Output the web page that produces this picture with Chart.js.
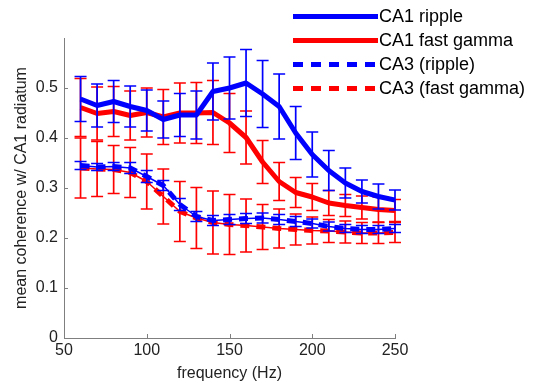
<!DOCTYPE html>
<html>
<head>
<meta charset="utf-8">
<script src="https://cdn.jsdelivr.net/npm/chart.js@4"></script>
<style>
  html, body { margin: 0; padding: 0; background: #fff; }
  canvas { display: block; }
</style>
</head>
<body>
<canvas id="chart" width="535" height="383"></canvas>
<script>
const freq = [60, 70, 80, 90, 100, 110, 120, 130, 140, 150, 160, 170, 180, 190, 200, 210, 220, 230, 240, 250];

const ca1Ripple    = [0.478, 0.465, 0.473, 0.463, 0.455, 0.437, 0.446, 0.446, 0.493, 0.500, 0.510, 0.488, 0.463, 0.410, 0.367, 0.335, 0.310, 0.293, 0.283, 0.276];
const ca1RippleErr = [0.045, 0.043, 0.042, 0.041, 0.041, 0.037, 0.043, 0.048, 0.057, 0.062, 0.067, 0.067, 0.065, 0.053, 0.045, 0.040, 0.030, 0.023, 0.025, 0.020];

const ca1Gamma    = [0.461, 0.449, 0.453, 0.445, 0.451, 0.442, 0.450, 0.450, 0.451, 0.430, 0.401, 0.352, 0.313, 0.291, 0.282, 0.270, 0.265, 0.261, 0.257, 0.255];
const ca1GammaErr = [0.058, 0.053, 0.050, 0.049, 0.049, 0.055, 0.060, 0.061, 0.064, 0.059, 0.053, 0.043, 0.038, 0.030, 0.027, 0.025, 0.022, 0.023, 0.025, 0.022];

const ca3Ripple    = [0.345, 0.342, 0.343, 0.340, 0.323, 0.305, 0.267, 0.243, 0.235, 0.237, 0.239, 0.240, 0.237, 0.233, 0.229, 0.223, 0.219, 0.217, 0.217, 0.219];
const ca3RippleErr = [0.008, 0.007, 0.008, 0.011, 0.012, 0.010, 0.012, 0.010, 0.010, 0.010, 0.010, 0.010, 0.010, 0.010, 0.009, 0.009, 0.008, 0.008, 0.008, 0.008];

const ca3Gamma    = [0.340, 0.338, 0.337, 0.331, 0.313, 0.283, 0.253, 0.240, 0.231, 0.227, 0.225, 0.222, 0.219, 0.217, 0.215, 0.214, 0.212, 0.210, 0.210, 0.211];
const ca3GammaErr = [0.060, 0.055, 0.048, 0.050, 0.055, 0.055, 0.060, 0.061, 0.063, 0.060, 0.053, 0.045, 0.039, 0.031, 0.027, 0.023, 0.022, 0.021, 0.021, 0.020];

const seriesNames = ['CA1 ripple', 'CA1 fast gamma', 'CA3 (ripple)', 'CA3 (fast gamma)'];
const xTicks = [50, 100, 150, 200, 250];

const BLUE = 'rgb(0,0,255)';
const RED = 'rgb(255,0,0)';
const AXIS = '#7f7f7f';
const FONT = "'Liberation Sans', Arial, sans-serif";

function points(values) {
    return values.map((v, i) => ({x: freq[i], y: v}));
}

function lineSet(label, values, errs, color, dashed, width, legend) {
    return {
        label: label,
        data: points(values),
        errs: errs,
        borderColor: color,
        backgroundColor: color,
        borderWidth: width,
        borderDash: dashed ? [9, 7] : [],
        borderJoinStyle: 'round',
        pointRadius: 0,
        tension: 0,
        fill: false,
        inLegend: legend
    };
}

// error bars drawn with the chart's own scales
const errorBars = {
    id: 'errorBars',
    beforeDatasetDraw(chart, args) {
        const ds = chart.data.datasets[args.index];
        if (!ds.errs) return;
        const x = chart.scales.x, y = chart.scales.y;
        const ctx = chart.ctx;
        ctx.save();
        ctx.strokeStyle = ds.borderColor;
        ctx.lineWidth = 1.7;
        ctx.setLineDash([]);
        ds.data.forEach((p, i) => {
            const px = x.getPixelForValue(p.x);
            const top = y.getPixelForValue(p.y + ds.errs[i]);
            const bot = y.getPixelForValue(p.y - ds.errs[i]);
            ctx.beginPath();
            ctx.moveTo(px, top); ctx.lineTo(px, bot);
            ctx.moveTo(px - 6, top); ctx.lineTo(px + 6, top);
            ctx.moveTo(px - 6, bot); ctx.lineTo(px + 6, bot);
            ctx.stroke();
        });
        ctx.restore();
    }
};

// matlab style inward ticks
const inwardTicks = {
    id: 'inwardTicks',
    afterDraw(chart) {
        const ctx = chart.ctx;
        const a = chart.chartArea;
        const x = chart.scales.x, y = chart.scales.y;
        ctx.save();
        ctx.strokeStyle = AXIS;
        ctx.lineWidth = 1;
        ctx.beginPath();
        x.ticks.forEach(t => {
            const px = Math.round(x.getPixelForValue(t.value)) + 0.5;
            ctx.moveTo(px, a.bottom); ctx.lineTo(px, a.bottom - 4);
        });
        y.ticks.forEach(t => {
            const py = Math.round(y.getPixelForValue(t.value)) + 0.5;
            if (t.value > 0.55) return;
            ctx.moveTo(a.left, py); ctx.lineTo(a.left + 4, py);
        });
        ctx.stroke();
        ctx.restore();
    }
};

const legendBox = {
    id: 'legendBox',
    afterDraw(chart) {
        const ctx = chart.ctx;
        const items = chart.data.datasets.filter(d => d.inLegend);
        ctx.save();
        ctx.font = '18px ' + FONT;
        ctx.textBaseline = 'middle';
        items.forEach((d, i) => {
            const yy = 16.5 + i * 24;
            ctx.strokeStyle = d.borderColor;
            ctx.lineWidth = 5;
            ctx.setLineDash(d.borderDash.length ? [10, 8] : []);
            ctx.beginPath();
            ctx.moveTo(293, yy); ctx.lineTo(378, yy);
            ctx.stroke();
            ctx.setLineDash([]);
            ctx.fillStyle = '#000';
            ctx.fillText(d.label, 379, yy + 1);
        });
        ctx.restore();
    }
};

const datasets = [
    lineSet(seriesNames[0], ca1Ripple, ca1RippleErr, BLUE, false, 5, true),
    lineSet(seriesNames[1], ca1Gamma, ca1GammaErr, RED, false, 5, true),
    lineSet('', ca3Ripple, ca3RippleErr, BLUE, false, 1.5, false),
    lineSet(seriesNames[2], ca3Ripple, null, BLUE, true, 5, true),
    lineSet('', ca3Gamma, ca3GammaErr, RED, false, 1.5, false),
    lineSet(seriesNames[3], ca3Gamma, null, RED, true, 5, true)
];

new Chart(document.getElementById('chart'), {
    type: 'line',
    data: { datasets: datasets },
    options: {
        responsive: false,
        animation: false,
        devicePixelRatio: 1,
        layout: { padding: { top: 38, right: 140, left: 0, bottom: 0 } },
        plugins: { legend: { display: false }, tooltip: { enabled: false } },
        scales: {
            x: {
                type: 'linear',
                min: 50, max: 250,
                afterBuildTicks: s => { s.ticks = xTicks.map(v => ({value: v})); },
                afterFit: s => { s.height = 45; },
                grid: { drawOnChartArea: false, drawTicks: false },
                border: { color: AXIS, width: 1 },
                ticks: { color: '#222', font: { family: FONT, size: 16 }, padding: 3, maxRotation: 0 },
                title: { display: true, text: 'frequency (Hz)', color: '#222', font: { family: FONT, size: 16 }, padding: { top: 0, bottom: 0 } }
            },
            y: {
                min: 0, max: 0.6,
                afterFit: s => { s.width = 64; },
                grid: { drawOnChartArea: false, drawTicks: false },
                border: { color: AXIS, width: 1 },
                ticks: {
                    stepSize: 0.1,
                    color: '#222',
                    font: { family: FONT, size: 16 },
                    padding: 6,
                    callback: v => v > 0.55 ? '' : (Math.round(v * 10) / 10).toString()
                },
                title: { display: true, text: 'mean coherence w/ CA1 radiatum', color: '#222', font: { family: FONT, size: 16 }, padding: { top: 12, bottom: 0 } }
            }
        }
    },
    plugins: [errorBars, inwardTicks, legendBox]
});
</script>
</body>
</html>
